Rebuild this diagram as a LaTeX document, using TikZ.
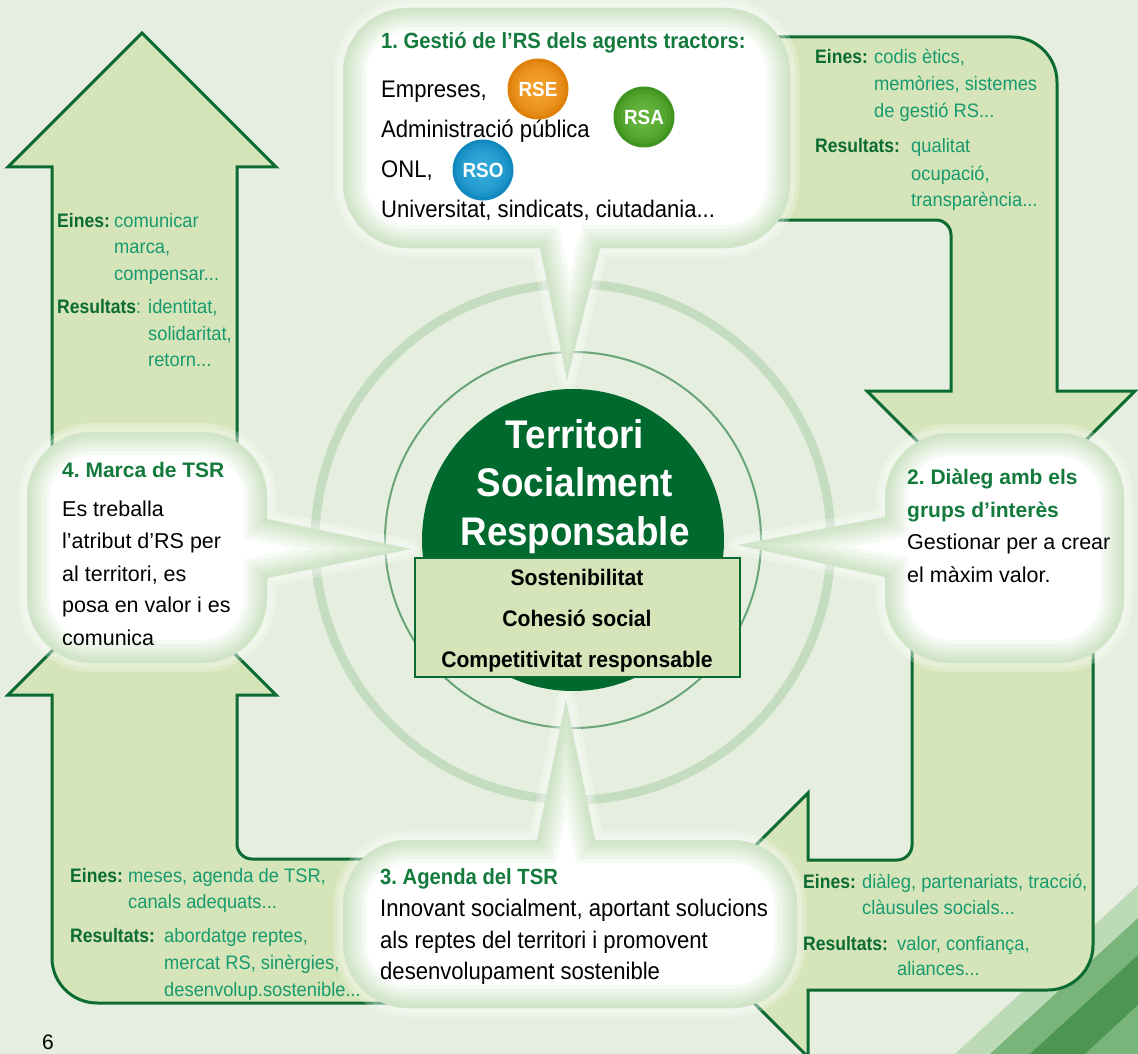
\documentclass[tikz,border=0pt]{standalone}
\usepackage{fontspec}
\setmainfont{Liberation Sans}
\newfontfamily\cnd{Liberation Sans}[FakeStretch=0.92]
\newfontfamily\cne{Liberation Sans}[FakeStretch=0.94]
\newfontfamily\cnk{Liberation Sans}[FakeStretch=0.9]
\frenchspacing
\definecolor{bgc}{HTML}{E6EFDF}
\definecolor{arrf}{HTML}{D5E5B9}
\definecolor{dkg}{HTML}{0B6B33}
\definecolor{hdg}{HTML}{137A3C}
\definecolor{tealc}{HTML}{189A6E}
\definecolor{diskc}{HTML}{006A2E}
\definecolor{ringc}{HTML}{C4DCC0}
\definecolor{ringb}{HTML}{6AA57A}
\definecolor{glowc}{HTML}{B4D6A6}
\definecolor{rseIn}{HTML}{F7A733}
\definecolor{rseOut}{HTML}{DF8009}
\definecolor{rsaIn}{HTML}{6DBA44}
\definecolor{rsaOut}{HTML}{3F951F}
\definecolor{rsoIn}{HTML}{38AEDF}
\definecolor{rsoOut}{HTML}{1089BF}
\definecolor{stA}{HTML}{BCDAB6}
\definecolor{stB}{HTML}{79B57A}
\definecolor{stC}{HTML}{4D9652}
\begin{document}
\begin{tikzpicture}[x=1pt,y=-1pt,
  hdA/.style={font=\cnd\bfseries\fontsize{22}{26}\selectfont, text=hdg, anchor=base west, inner sep=0pt},
  bdA/.style={font=\cnd\fontsize{24}{28}\selectfont, text=black, anchor=base west, inner sep=0pt},
  hdB/.style={font=\bfseries\fontsize{21}{25}\selectfont, text=hdg, anchor=base west, inner sep=0pt},
  bdB/.style={font=\fontsize{21.5}{25}\selectfont, text=black, anchor=base west, inner sep=0pt},
  ekey/.style={font=\cnk\bfseries\fontsize{19.5}{23}\selectfont, text=dkg, anchor=base west, inner sep=0pt},
  evl/.style={font=\cne\fontsize{19.5}{23}\selectfont, text=tealc, anchor=base west, inner sep=0pt},
  arrowst/.style={fill=arrf, draw=dkg, line width=3pt, line join=miter},
  rstext/.style={text=white, inner sep=0pt, font=\cnd\bfseries\fontsize{20.5}{24}\selectfont},
  ctitle/.style={font=\cnd\bfseries\fontsize{40}{46}\selectfont, text=white, anchor=base, inner sep=0pt},
  cbox/.style={font=\cne\bfseries\fontsize{22.5}{26}\selectfont, text=black, anchor=base, inner sep=0pt}
]
\useasboundingbox (0,0) rectangle (1138,1054);
\fill[bgc] (0,0) rectangle (1138,1054);

% decorative streak bottom right
\fill[stA] (955,1054) -- (1138,885) -- (1138,1054) -- cycle;
\fill[stB] (990,1054) -- (1138,918) -- (1138,1054) -- cycle;
\fill[stC] (1030,1054) -- (1138,955) -- (1138,1054) -- cycle;
\fill[stB] (1085,1054) -- (1138,1005) -- (1138,1054) -- cycle;

% rings
\node[circle, draw=ringc, line width=9pt, minimum size=516pt, inner sep=0pt] (outring) at (573,542) {};
\node[circle, draw=ringb, line width=2pt, minimum size=376pt, inner sep=0pt] (inring) at (573,540) {};

% arrows
\draw[arrowst] (52,480) -- (52,167) -- (8,167) -- (142,33) -- (276,167) -- (237,167) -- (237,480);
\draw[arrowst] (740,220) -- (936,220) .. controls (944.3,220) and (951,226.7) .. (951,235) -- (951,391) -- (867,391) -- (1001,525) -- (1135,391) -- (1057,391) -- (1057,82) .. controls (1057,57.2) and (1036.8,37) .. (1012,37) -- (740,37);
\draw[arrowst] (912,600) -- (912,845) .. controls (912,853.3) and (905.3,860) .. (897,860) -- (808,860) -- (808,793) -- (676,925) -- (808,1057) -- (808,990) -- (1048,990) .. controls (1072.8,990) and (1093,969.8) .. (1093,945) -- (1093,600);
\draw[arrowst] (420,859) -- (252,859) .. controls (243.7,859) and (237,852.3) .. (237,844) -- (237,695) -- (276,695) -- (142,561) -- (8,695) -- (52,695) -- (52,958) .. controls (52,982.8) and (72.2,1003) .. (97,1003) -- (420,1003);

% central disk and box
\node[circle, fill=diskc, minimum size=302pt, inner sep=0pt] (disk) at (573,540) {};
\node[draw=dkg, fill=arrf, line width=2.5pt, minimum width=325pt, minimum height=119pt, inner sep=0pt] (cbox) at (577.5,617.5) {};

% bubbles
\path[save path=\bubA] (540,248) -- (567,380) -- (600,248) -- (725,248) .. controls (760.9,248) and (790,218.9) .. (790,183) -- (790,73) .. controls (790,37.1) and (760.9,8) .. (725,8) -- (408,8) .. controls (372.1,8) and (343,37.1) .. (343,73) -- (343,183) .. controls (343,218.9) and (372.1,248) .. (408,248) -- cycle;
\path[save path=\bubB] (885,517) -- (738,545) -- (885,577) -- (885,598) .. controls (885,633.9) and (914.1,663) .. (950,663) -- (1059,663) .. controls (1094.9,663) and (1124,633.9) .. (1124,598) -- (1124,498) .. controls (1124,462.1) and (1094.9,433) .. (1059,433) -- (950,433) .. controls (914.1,433) and (885,462.1) .. (885,498) -- cycle;
\path[save path=\bubC] (595,840) -- (566,700) -- (537,840) -- (408,840) .. controls (372.1,840) and (343,869.1) .. (343,905) -- (343,943) .. controls (343,978.9) and (372.1,1008) .. (408,1008) -- (732,1008) .. controls (767.9,1008) and (797,978.9) .. (797,943) -- (797,905) .. controls (797,869.1) and (767.9,840) .. (732,840) -- cycle;
\path[save path=\bubD] (267,578) -- (411,549) -- (267,519) -- (267,497) .. controls (267,461.1) and (237.9,432) .. (202,432) -- (92,432) .. controls (56.1,432) and (27,461.1) .. (27,497) -- (27,598) .. controls (27,633.9) and (56.1,663) .. (92,663) -- (202,663) .. controls (237.9,663) and (267,633.9) .. (267,598) -- cycle;
\foreach \bb in {\bubA,\bubB,\bubC,\bubD}{
  \foreach \w in {18,10}{
    \draw[white, opacity=0.25, line width=\w pt, line join=round, use path=\bb];
  }
  \begin{scope}
    \path[clip, use path=\bb];
    \fill[white, use path=\bb];
    \foreach \w in {46,38,30,23,17,11,6}{
      \draw[glowc, opacity=0.12, line width=\w pt, use path=\bb];
    }
  \end{scope}
}

% bubble 1 text
\node[hdA] (t1) at (381,49) {1. Gestió de l’RS dels agents tractors:};
\node[bdA] (b1a) at (381,98) {Empreses,};
\node[bdA] (b1b) at (381,138) {Administració pública};
\node[bdA] (b1c) at (381,177) {ONL,};
\node[bdA] (b1d) at (381,217) {Universitat, sindicats, ciutadania...};
\foreach \cx/\cy/\ci/\co in {538/89/rseIn/rseOut, 644/117/rsaIn/rsaOut, 483/170/rsoIn/rsoOut}{
  \fill[\co] (\cx,\cy) circle[radius=30.5pt];
  \foreach \r in {27,23,19,15,11}{
    \fill[\ci, opacity=0.28] (\cx,\cy) circle[radius=\r pt];
  }
}
\node[rstext] (rse) at (538,89) {RSE};
\node[rstext] (rsa) at (644,117) {RSA};
\node[rstext] (rso) at (483,170) {RSO};

% bubble 2 text
\node[hdB] (t2a) at (907,484) {2. Diàleg amb els};
\node[hdB] (t2b) at (907,517) {grups d’interès};
\node[bdB] (b2a) at (907,549) {Gestionar per a crear};
\node[bdB] (b2b) at (907,582) {el màxim valor.};

% bubble 3 text
\node[hdA] (t3) at (380,884) {3. Agenda del TSR};
\node[bdA] (b3a) at (380,916) {Innovant socialment, aportant solucions};
\node[bdA] (b3b) at (380,948) {als reptes del territori i promovent};
\node[bdA] (b3c) at (380,979) {desenvolupament sostenible};

% bubble 4 text
\node[hdB] (t4) at (62,477) {4. Marca de TSR};
\node[bdB] (b4a) at (62,516) {Es treballa};
\node[bdB] (b4b) at (62,548) {l’atribut d’RS per};
\node[bdB] (b4c) at (62,581) {al territori, es};
\node[bdB] (b4d) at (62,612) {posa en valor i es};
\node[bdB] (b4e) at (62,645) {comunica};

% center text
\node[ctitle] (ct1) at (575,448) {Territori};
\node[ctitle] (ct2) at (575,496) {Socialment};
\node[ctitle] (ct3) at (575,545) {Responsable};
\node[cbox] (cb1) at (577,585) {Sostenibilitat};
\node[cbox] (cb2) at (577,626) {Cohesió social};
\node[cbox] (cb3) at (577,667) {Competitivitat responsable};

% Eines blocks
\node[ekey] (e1k) at (57,227) {Eines:};
\node[evl] (e1a) at (114,227) {comunicar};
\node[evl] (e1b) at (114,253) {marca,};
\node[evl] (e1c) at (114,280) {compensar...};
\node[ekey] (r1k) at (57,313) {Resultats{\mdseries\color{tealc}:}};
\node[evl] (r1a) at (148,313) {identitat,};
\node[evl] (r1b) at (148,340) {solidaritat,};
\node[evl] (r1c) at (148,366) {retorn...};

\node[ekey] (e2k) at (815,64) {Eines:};
\node[evl] (e2a) at (874,64) {codis ètics,};
\node[evl] (e2b) at (874,91) {memòries, sistemes};
\node[evl] (e2c) at (874,118) {de gestió RS...};
\node[ekey] (r2k) at (815,153) {Resultats:};
\node[evl] (r2a) at (911,153) {qualitat};
\node[evl] (r2b) at (911,180) {ocupació,};
\node[evl] (r2c) at (911,206) {transparència...};

\node[ekey] (e3k) at (70,882) {Eines:};
\node[evl] (e3a) at (128,882) {meses, agenda de TSR,};
\node[evl] (e3b) at (128,908) {canals adequats...};
\node[ekey] (r3k) at (70,942) {Resultats:};
\node[evl] (r3a) at (164,942) {abordatge reptes,};
\node[evl] (r3b) at (164,969) {mercat RS, sinèrgies,};
\node[evl] (r3c) at (164,996) {desenvolup.sostenible...};

\node[ekey] (e4k) at (803,888) {Eines:};
\node[evl] (e4a) at (862,888) {diàleg, partenariats, tracció,};
\node[evl] (e4b) at (862,914) {clàusules socials...};
\node[ekey] (r4k) at (803,950) {Resultats:};
\node[evl] (r4a) at (897,950) {valor, confiança,};
\node[evl] (r4b) at (897,975) {aliances...};

\node[font=\fontsize{21}{24}\selectfont, anchor=base west, inner sep=0pt] (pg) at (42,1049) {6};
\end{tikzpicture}
\end{document}
